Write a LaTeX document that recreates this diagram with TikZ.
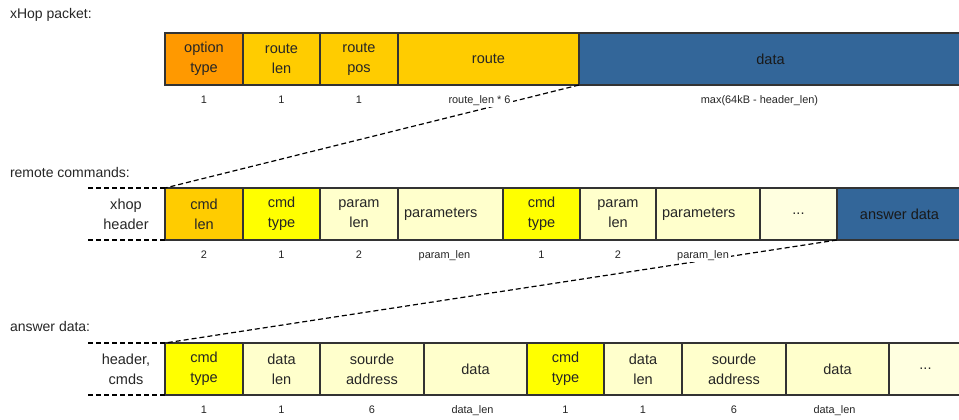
\documentclass[tikz,border=0pt]{standalone}
\usepackage{fontspec}
\setmainfont{Liberation Sans}
\usetikzlibrary{positioning, calc}

\definecolor{optOrange}{HTML}{FF9900}
\definecolor{routeYellow}{HTML}{FFCC00}
\definecolor{cmdYellow}{HTML}{FFFF00}
\definecolor{paleYellow}{HTML}{FFFFCC}
\definecolor{palerYellow}{HTML}{FFFFE0}
\definecolor{dataBlue}{HTML}{336699}

\begin{document}
\begin{tikzpicture}[x=0.75pt, y=-0.75pt,
		every node/.style={align=center, inner sep=0pt, outer sep=0pt, text=black!85},
		field/.style={
				draw=black!80, line width=1.1pt, minimum height=39pt,
				font=\fontsize{10.9}{15}\selectfont
			},
		fieldWidth/.style={minimum width=#1*0.75pt},
		optionField/.style={field, fill=optOrange},
		routeField/.style={field, fill=routeYellow},
		cmdField/.style={field, fill=cmdYellow},
		paleField/.style={field, fill=paleYellow},
		restField/.style={field, fill=palerYellow},
		dataField/.style={field, fill=dataBlue, text=black!90},
		sizeLabel/.style={
				fill=white, inner sep=1.5pt, text height=6pt, text depth=1.5pt,
				font=\fontsize{8.2}{10}\selectfont
			},
		rowTitle/.style={anchor=west, font=\fontsize{10.5}{12}\selectfont},
		zoomLine/.style={line width=0.9pt, dash pattern=on 3.75pt off 2.25pt}
	]
	\useasboundingbox (0,0) rectangle (959,419);

	% xHop packet
	\node[rowTitle] (T1) at (10,15) {xHop packet:};
	\node[optionField, fieldWidth=78, anchor=north west] (P1) at (165,33) {option\\type};
	\node[routeField, fieldWidth=77, right=0pt of P1] (P2) {route\\len};
	\node[routeField, fieldWidth=78, right=0pt of P2] (P3) {route\\pos};
	\node[routeField, fieldWidth=181, right=0pt of P3] (P4) {route};
	\node[dataField, fieldWidth=383, right=0pt of P4] (P5) {data};

	% remote commands
	\node[rowTitle] (T2) at (10,172) {remote commands:};
	\node[routeField, fieldWidth=78, anchor=north west] (C1) at (165,188) {cmd\\len};
	\node[cmdField, fieldWidth=77, right=0pt of C1] (C2) {cmd\\type};
	\node[paleField, fieldWidth=78, right=0pt of C2] (C3) {param\\len};
	\node[paleField, fieldWidth=105, text width=69.75pt, align=left, right=0pt of C3] (C4) {parameters};
	\node[cmdField, fieldWidth=77, right=0pt of C4] (C5) {cmd\\type};
	\node[paleField, fieldWidth=76, right=0pt of C5] (C6) {param\\len};
	\node[paleField, fieldWidth=104, text width=69pt, align=left, right=0pt of C6] (C7) {parameters};
	\node[restField, fieldWidth=77, right=0pt of C7] (C8) {...};
	\node[dataField, fieldWidth=125, right=0pt of C8] (C9) {answer data};
	\node[font=\fontsize{10.9}{15}\selectfont] (C0) at (126,214) {xhop\\header};
	\coordinate (C0t) at (88,188);
	\coordinate (C0b) at (88,240);

	% answer data
	\node[rowTitle] (T3) at (10,326) {answer data:};
	\node[cmdField, fieldWidth=78, anchor=north west] (A1) at (165,343) {cmd\\type};
	\node[paleField, fieldWidth=77, right=0pt of A1] (A2) {data\\len};
	\node[paleField, fieldWidth=104, right=0pt of A2] (A3) {sourde\\address};
	\node[paleField, fieldWidth=103, right=0pt of A3] (A4) {data};
	\node[cmdField, fieldWidth=77, right=0pt of A4] (A5) {cmd\\type};
	\node[paleField, fieldWidth=78, right=0pt of A5] (A6) {data\\len};
	\node[paleField, fieldWidth=104, right=0pt of A6] (A7) {sourde\\address};
	\node[paleField, fieldWidth=103, right=0pt of A7] (A8) {data};
	\node[restField, fieldWidth=73, right=0pt of A8] (A9) {...};
	\node[font=\fontsize{10.9}{15}\selectfont] (A0) at (126,369) {header,\\cmds};
	\coordinate (A0t) at (88,343);
	\coordinate (A0b) at (88,395);

	% zoom lines
	\draw[zoomLine] (P4.south east) -- (C1.north west);
	\draw[zoomLine] (C9.south west) -- (A1.north west);
	\draw[zoomLine] (C0t) -- (C1.north west);
	\draw[zoomLine] (C0b) -- (C1.south west);
	\draw[zoomLine] (A0t) -- (A1.north west);
	\draw[zoomLine] (A0b) -- (A1.south west);

	% sizes
	\node[sizeLabel] (P1s) at ($(P1.south)+(0,15)$) {1};
	\node[sizeLabel] (P2s) at ($(P2.south)+(0,15)$) {1};
	\node[sizeLabel] (P3s) at ($(P3.south)+(0,15)$) {1};
	\node[sizeLabel] (P4s) at ($(P4.south)+(-9,15)$) {route\_len * 6};
	\node[sizeLabel] (P5s) at ($(P5.south)+(-11,15)$) {max(64kB - header\_len)};

	\node[sizeLabel] (C1s) at ($(C1.south)+(0,15)$) {2};
	\node[sizeLabel] (C2s) at ($(C2.south)+(0,15)$) {1};
	\node[sizeLabel] (C3s) at ($(C3.south)+(0,15)$) {2};
	\node[sizeLabel] (C4s) at ($(C4.south)+(-6,15)$) {param\_len};
	\node[sizeLabel] (C5s) at ($(C5.south)+(0,15)$) {1};
	\node[sizeLabel] (C6s) at ($(C6.south)+(0,15)$) {2};
	\node[sizeLabel] (C7s) at ($(C7.south)+(-5,15)$) {param\_len};

	\node[sizeLabel] (A1s) at ($(A1.south)+(0,15)$) {1};
	\node[sizeLabel] (A2s) at ($(A2.south)+(0,15)$) {1};
	\node[sizeLabel] (A3s) at ($(A3.south)+(0,15)$) {6};
	\node[sizeLabel] (A4s) at ($(A4.south)+(-3,15)$) {data\_len};
	\node[sizeLabel] (A5s) at ($(A5.south)+(0,15)$) {1};
	\node[sizeLabel] (A6s) at ($(A6.south)+(0,15)$) {1};
	\node[sizeLabel] (A7s) at ($(A7.south)+(0,15)$) {6};
	\node[sizeLabel] (A8s) at ($(A8.south)+(-3,15)$) {data\_len};
\end{tikzpicture}
\end{document}
